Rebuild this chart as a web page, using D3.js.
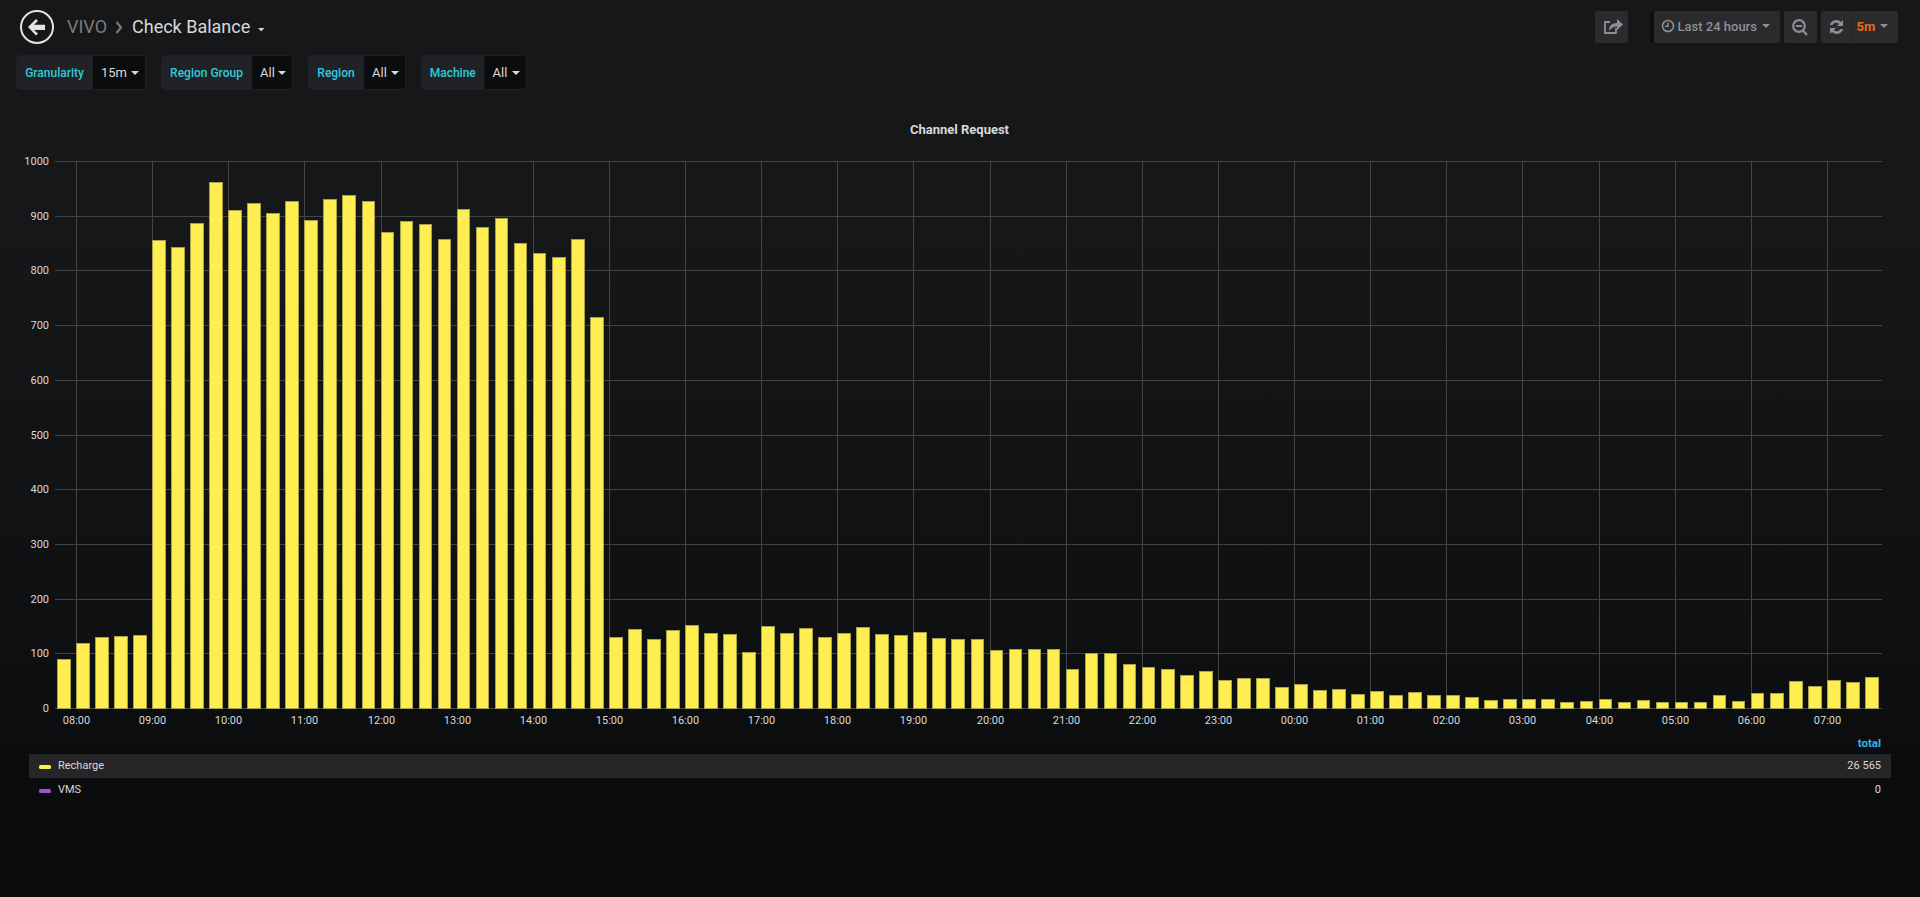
<!DOCTYPE html>
<html><head><meta charset="utf-8">
<script src="https://cdn.jsdelivr.net/npm/d3@7/dist/d3.min.js"></script>
<style>
html,body{margin:0;padding:0;width:1920px;height:897px;overflow:hidden;background:linear-gradient(#161719 0,#161719 25%,#0f1012 72%,#0a0b0d 90%,#0a0b0d 100%);}
svg{display:block;font-family:Roboto,sans-serif;}
</style></head><body><svg id="c" width="1920" height="897"></svg>
<script>
const chartTitle = "Channel Request";
const seriesNames = ["Recharge", "VMS"];
const seriesColors = ["#FFEE52", "#A352CC"];
const seriesTotals = ["26 565", "0"];
const yTicks = [0,100,200,300,400,500,600,700,800,900,1000];
const recharge = [
 90,119,130,132,133,
 855,842,887,961,910,924,905,927,893,931,938,927,871,890,884,858,913,879,895,850,831,825,858,715,
 130,145,127,142,152,138,136,103,150,137,147,130,138,148,136,133,139,128,127,127,106,108,107,107,
 71,100,100,80,75,71,61,67,52,54,54,38,43,33,34,25,31,24,30,24,
 24,20,15,17,17,16,11,13,17,11,15,11,11,11,23,13,28,28,49,40,51,47,56
];
const vms = [];
const variables = [
 {label:"Granularity", value:"15m", x0:16, x1:93, x2:146},
 {label:"Region Group", value:"All", x0:161, x1:252, x2:293},
 {label:"Region", value:"All", x0:308, x1:364, x2:406},
 {label:"Machine", value:"All", x0:421, x1:484.5, x2:527}
];

const svg = d3.select("#c");
const startT = Date.UTC(2019,0,1,7,45);
const MIN = 60000;
const times = recharge.map((_,i)=>new Date(startT + i*15*MIN));
const x = d3.scaleUtc()
  .domain([new Date(Date.UTC(2019,0,1,7,43,25)), new Date(Date.UTC(2019,0,2,7,43,25))])
  .rangeRound([55,1882]);
const y = d3.scaleLinear().domain([0,1000]).rangeRound([708,161]);
const hourTicks = d3.utcHour.range(new Date(Date.UTC(2019,0,1,8)), new Date(Date.UTC(2019,0,2,8)));

const textC = "#d8d9da", gridC = "#434446";

// header
const back = svg.append("g").attr("transform","translate(37,27)");
back.append("circle").attr("r",16).attr("fill","none").attr("stroke","#e3e3e3").attr("stroke-width",2);
back.append("path").attr("d","M-9,0 L-1,-8 L1,-6 L-3,-2.2 L8,-2.2 L8,3 L-3,3 L1,6.5 L-1,8.5 Z").attr("fill","#e3e3e3");
svg.append("text").attr("x",67).attr("y",33).attr("font-size",18).attr("fill","#7b7b7b").text("VIVO");
svg.append("path").attr("d","M116.5,22 L121,27.5 L116.5,33").attr("fill","none").attr("stroke","#7b7b7b").attr("stroke-width",2.2);
svg.append("text").attr("x",132).attr("y",33).attr("font-size",18).attr("fill",textC).text("Check Balance");
svg.append("path").attr("d","M258,28 h6.5 l-3.25,3.2 z").attr("fill",textC);

// variables
variables.forEach(v=>{
  svg.append("rect").attr("x",v.x0+.5).attr("y",55.5).attr("width",v.x2-v.x0-1).attr("height",34).attr("rx",3).attr("fill","#0b0c0e").attr("stroke","#1f2023");
  svg.append("path").attr("d",`M${v.x1},56 H${v.x0+3} Q${v.x0+1},56 ${v.x0+1},58 V87 Q${v.x0+1},89 ${v.x0+3},89 H${v.x1} Z`).attr("fill","#212226");
  svg.append("text").attr("x",(v.x0+v.x1)/2).attr("y",76.5).attr("text-anchor","middle").attr("font-size",12).attr("font-weight",500).attr("fill","#33c9dc").text(v.label);
  svg.append("text").attr("x",v.x1+8).attr("y",77).attr("font-size",13).attr("fill",textC).text(v.value);
  svg.append("path").attr("d",`M${v.x2-15},71 h8 l-4,4 z`).attr("fill",textC);
});

// top-right buttons
[[1595,1628],[1654,1780],[1784,1817],[1821,1898]].forEach(b=>{
  svg.append("rect").attr("x",b[0]).attr("y",11).attr("width",b[1]-b[0]).attr("height",32).attr("rx",2).attr("fill","#2b2b2e");
});
svg.append("rect").attr("x",1650).attr("y",11).attr("width",4).attr("height",32).attr("fill","#0e0f10");
svg.append("line").attr("x1",1851.5).attr("x2",1851.5).attr("y1",11).attr("y2",43).attr("stroke","#242527");
const ic = "#8a8f94";
svg.append("path").attr("d","M1616,28 v5 h-11 v-11 h5").attr("fill","none").attr("stroke",ic).attr("stroke-width",1.8);
svg.append("path").attr("d","M1609,31 q0,-8 8,-8 v-4 l6,5.5 l-6,5.5 v-3.5 q-5,0 -8,4.5z").attr("fill",ic);
svg.append("circle").attr("cx",1668).attr("cy",26).attr("r",5.5).attr("fill","none").attr("stroke",ic).attr("stroke-width",1.6);
svg.append("path").attr("d","M1668,22.5 v3.8 h-3").attr("fill","none").attr("stroke",ic).attr("stroke-width",1.4);
svg.append("text").attr("x",1677.5).attr("y",31).attr("font-size",13).attr("font-weight",500).attr("fill","#8e9094").text("Last 24 hours");
svg.append("path").attr("d","M1762,24 h8 l-4,4 z").attr("fill","#8e9094");
svg.append("circle").attr("cx",1799).attr("cy",26).attr("r",5.8).attr("fill","none").attr("stroke",ic).attr("stroke-width",2.2);
svg.append("path").attr("d","M1796,26 h6 M1803,30.5 l4,4.5").attr("fill","none").attr("stroke",ic).attr("stroke-width",2.2);
svg.append("path").attr("d","M1830,25 a6.5,6.5 0 0 1 11,-3 l2,-2 v6 h-6 l2,-2 a4,4 0 0 0 -6.5,1 z M1843,29 a6.5,6.5 0 0 1 -11,3 l-2,2 v-6 h6 l-2,2 a4,4 0 0 0 6.5,-1 z").attr("fill",ic);
svg.append("text").attr("x",1856.5).attr("y",31).attr("font-size",13).attr("font-weight",700).attr("fill","#eb6a12").text("5m");
svg.append("path").attr("d","M1880,24 h8 l-4,4 z").attr("fill","#8e9094");

// title
svg.append("text").attr("x",959.5).attr("y",133.5).attr("text-anchor","middle").attr("font-size",13).attr("font-weight",700).attr("fill",textC).text(chartTitle);

// axes + grid
const yAxis = d3.axisLeft(y).tickValues(yTicks).tickFormat(d3.format("d")).tickSize(-(x.range()[1]-x.range()[0])).tickPadding(6);
const gy = svg.append("g").attr("transform",`translate(${x.range()[0]},0)`).call(yAxis);
const xAxis = d3.axisBottom(x).tickValues(hourTicks).tickFormat(d3.utcFormat("%H:%M")).tickSize(-(y.range()[0]-y.range()[1])).tickPadding(8);
const gx = svg.append("g").attr("transform",`translate(0,${y.range()[0]})`).call(xAxis);
[gx,gy].forEach(g=>{
  g.select(".domain").remove();
  g.selectAll("line").attr("stroke",gridC).attr("stroke-width",1);
  g.selectAll("text").attr("fill",textC).attr("font-size",11).attr("font-family","Roboto,sans-serif");
});

// bars
const barMin = 10;
svg.append("g").selectAll("rect").data(recharge).join("rect")
  .attr("x",(d,i)=>x(times[i])+.5)
  .attr("y",d=>y(d)+.5)
  .attr("width",(d,i)=>x(new Date(+times[i]+barMin*MIN))-x(times[i]))
  .attr("height",d=>y(0)-y(d))
  .attr("fill",seriesColors[0])
  .attr("stroke","#a8a145")
  .attr("stroke-width",1);

// legend
svg.append("text").attr("x",1881).attr("y",747).attr("text-anchor","end").attr("font-size",11.5).attr("font-weight",700).attr("fill","#33b5e5").text("total");
svg.append("rect").attr("x",29).attr("y",754).attr("width",1862).attr("height",24).attr("fill","#262628");
seriesNames.forEach((n,i)=>{
  const cy = 766 + i*24;
  svg.append("rect").attr("x",39).attr("y",cy-1).attr("width",12).attr("height",4).attr("rx",1.5).attr("fill",seriesColors[i]);
  svg.append("text").attr("x",58).attr("y",cy+3).attr("font-size",11).attr("fill",textC).text(n);
  svg.append("text").attr("x",1881).attr("y",cy+3).attr("text-anchor","end").attr("font-size",11).attr("fill",textC).text(seriesTotals[i]);
});
</script></body></html>
